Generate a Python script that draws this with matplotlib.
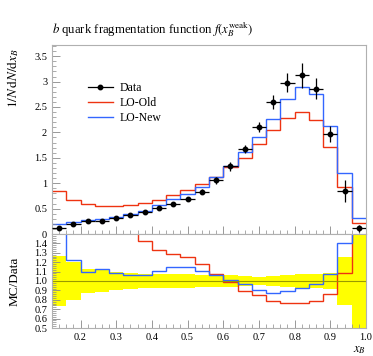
import matplotlib
matplotlib.use('Agg')
import matplotlib.pyplot as plt
from matplotlib.lines import Line2D
import numpy as np

plt.rcParams['font.family'] = ['Liberation Serif', 'DejaVu Serif']
plt.rcParams['mathtext.fontset'] = 'stix'

# bin edges in x_B (22 bins of 0.04)
edges = np.linspace(0.12, 1.0, 23)

data = [0.125, 0.20, 0.252, 0.265, 0.31, 0.37, 0.43, 0.51, 0.59, 0.69, 0.835,
        1.055, 1.33, 1.68, 2.10, 2.60, 2.98, 3.12, 2.86, 1.975, 0.85, 0.11]
data_err = [0.033, 0.04, 0.032, 0.031, 0.031, 0.032, 0.034, 0.038, 0.042, 0.048, 0.054,
            0.071, 0.084, 0.081, 0.10, 0.135, 0.19, 0.237, 0.206, 0.16, 0.218, 0.07]
lo_old = [0.85, 0.67, 0.59, 0.55, 0.55, 0.57, 0.615, 0.677, 0.758, 0.863, 0.985,
          1.131, 1.32, 1.505, 1.78, 2.04, 2.29, 2.40, 2.25, 1.71, 0.92, 0.22]
lo_new = [0.20, 0.245, 0.275, 0.298, 0.338, 0.393, 0.459, 0.563, 0.681, 0.796, 0.925,
          1.124, 1.34, 1.62, 1.91, 2.27, 2.66, 2.90, 2.76, 2.13, 1.195, 0.32]

red = '#ee3311'
blue = '#3366ff'
frame = '#b0b0b0'

data = np.array(data)
data_err = np.array(data_err)
centers = 0.5 * (edges[1:] + edges[:-1])
half = 0.5 * np.diff(edges)

fig = plt.figure(figsize=(3.73, 3.56), dpi=100)
ax = fig.add_axes([52/373, 122/356, 314/373, 189/356])
rax = fig.add_axes([52/373, 28/356, 314/373, 94/356], sharex=ax)

# main panel
ax.stairs(lo_old, edges, baseline=None, color=red, lw=1.0)
ax.stairs(lo_new, edges, baseline=None, color=blue, lw=1.0)
ax.errorbar(centers, data, yerr=data_err, xerr=half, fmt='o', color='black',
            ms=3.2, elinewidth=0.9, capsize=0, zorder=5)

ax.set_xlim(0.12, 1.0)
ax.set_ylim(0, 3.72)
ax.set_yticks(np.arange(0, 3.6, 0.5))
ax.set_yticklabels(['0', '0.5', '1', '1.5', '2', '2.5', '3', '3.5'])
ax.yaxis.set_minor_locator(matplotlib.ticker.MultipleLocator(0.1))
ax.set_ylabel(r'$1/N\,\mathrm{d}N/\mathrm{d}x_B$', loc='top', fontsize=9.5)
ax.yaxis.set_label_coords(-0.10, 0.985)
plt.setp(ax.get_xticklabels(), visible=False)

handles = [Line2D([], [], color='black', marker='o', ms=3.2, lw=0.9),
           Line2D([], [], color=red, lw=1.0),
           Line2D([], [], color=blue, lw=1.0)]
ax.legend(handles, ['Data', 'LO-Old', 'LO-New'], loc='upper left',
          bbox_to_anchor=(0.095, 0.835), frameon=False, fontsize=8.5,
          handlelength=2.1, handletextpad=0.6, labelspacing=0.25, borderpad=0)

fig.text(52/373, 1 - 33/356,
         r'$b$ quark fragmentation function $f(x_B^{\mathrm{weak}})$',
         fontsize=9.2, va='baseline', ha='left')

# ratio panel
rel = data_err / data
rax.stairs(1 + rel, edges, baseline=1 - rel, fill=True, color='#ffff00', lw=0)
rax.axhline(1.0, color='#999900', lw=0.8)
rax.stairs(np.array(lo_old) / data, edges, baseline=None, color=red, lw=1.0)
rax.stairs(np.array(lo_new) / data, edges, baseline=None, color=blue, lw=1.0)
rax.set_ylim(0.5, 1.5)
rax.set_yticks(np.arange(0.5, 1.45, 0.1))
rax.set_yticklabels(['0.5', '0.6', '0.7', '0.8', '0.9', '1.0', '1.1', '1.2', '1.3', '1.4'])
rax.yaxis.set_minor_locator(matplotlib.ticker.MultipleLocator(0.02))
rax.set_xticks(np.arange(0.2, 1.01, 0.1))
rax.set_xticklabels(['0.2', '0.3', '0.4', '0.5', '0.6', '0.7', '0.8', '0.9', '1.0'])
rax.xaxis.set_minor_locator(matplotlib.ticker.MultipleLocator(0.02))
rax.set_ylabel('MC/Data', fontsize=9.5)
rax.yaxis.set_label_coords(-0.10, 0.5)
rax.set_xlabel(r'$x_B$', loc='right', fontsize=9)
rax.xaxis.set_label_coords(1.0, -0.17)

for a in (ax, rax):
    for s in a.spines.values():
        s.set_color(frame)
        s.set_linewidth(0.8)
    a.tick_params(which='both', direction='in', color='#888888', labelsize=7.5)
    a.tick_params(which='major', length=6, width=0.6)
    a.tick_params(which='minor', length=3, width=0.5)

fig.savefig('out.png', dpi=100)
